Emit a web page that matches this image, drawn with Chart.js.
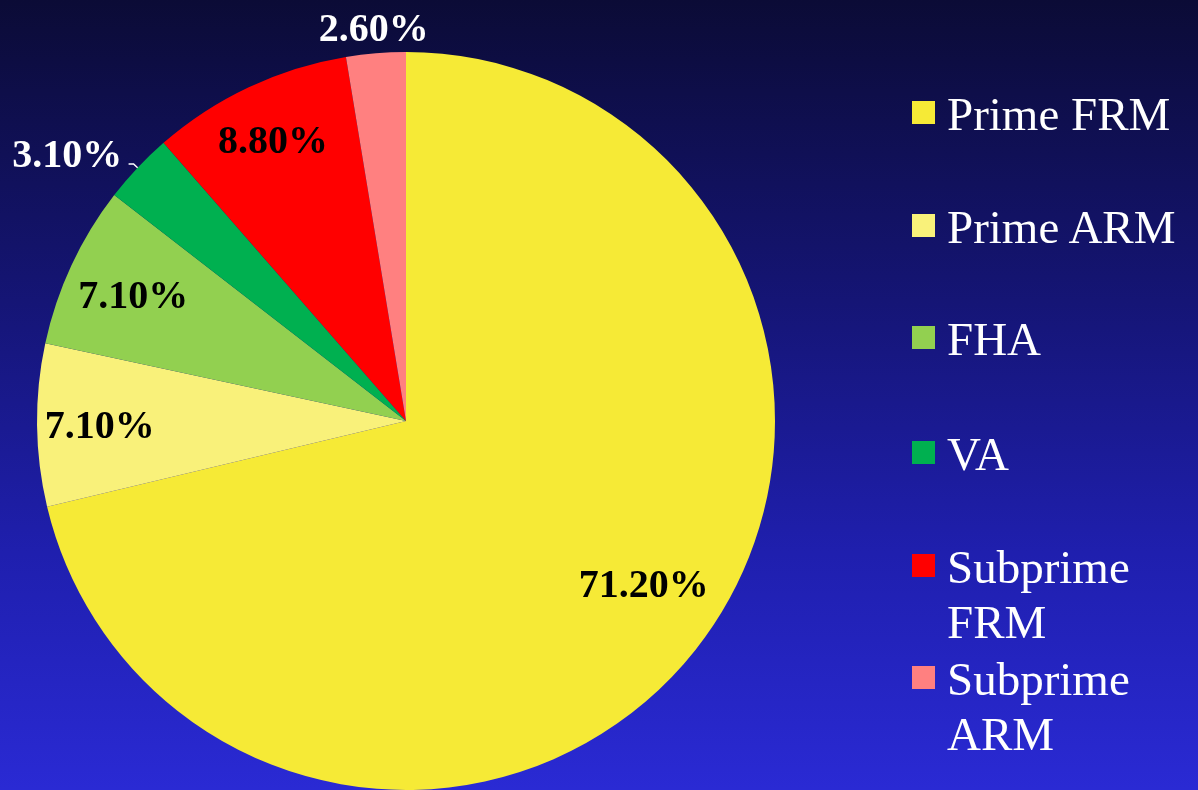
<!DOCTYPE html>
<html>
<head>
<meta charset="utf-8">
<title>Mortgage market shares</title>
<script src="https://cdn.jsdelivr.net/npm/chart.js@4.4.1/dist/chart.umd.min.js"></script>
<style>
  html, body {
    margin: 0;
    padding: 0;
    width: 1198px;
    height: 790px;
    overflow: hidden;
  }
  body {
    position: relative;
    background: linear-gradient(to bottom, #0b0b36 0%, #141470 35%, #1f1fae 70%, #2a2ad4 100%);
    font-family: "Liberation Serif", "Times New Roman", serif;
  }
  #pie {
    position: absolute;
    left: 0;
    top: 0;
  }
  .legend {
    position: absolute;
    left: 912px;
    color: #ffffff;
    font-size: 47px;
    line-height: 55px;
  }
  .legend .swatch {
    position: absolute;
    left: 0;
    width: 23px;
    height: 23px;
  }
  .legend .text {
    position: absolute;
    left: 35px;
    white-space: nowrap;
  }
</style>
</head>
<body>
<canvas id="pie" width="1198" height="790"></canvas>
<div id="legend"></div>
<script>
// mortgage types and their share of the market, in percent
const categories = ['Prime FRM', 'Prime ARM', 'FHA', 'VA', 'Subprime FRM', 'Subprime ARM'];
const shares = [71.2, 7.1, 7.1, 3.1, 8.8, 2.6];
const sliceColors = ['#f6ea36', '#f9f17a', '#92d050', '#00b050', '#ff0000', '#ff8080'];

// legend rows: each entry is one or two text lines
const legendLines = [['Prime FRM'], ['Prime ARM'], ['FHA'], ['VA'], ['Subprime', 'FRM'], ['Subprime', 'ARM']];
const legendTops = [87, 200, 312, 427, 540, 652];

// label placement per slice: radius fraction, angle nudge (deg), colour
const labelRadius = [0.78, 0.83, 0.815, 1.17, 0.846, 1.07];
const labelShift = [-4, 0, 0, -5, 0, 0];
const labelColor = ['#000', '#000', '#000', '#fff', '#000', '#fff'];

const sliceLabels = {
  id: 'sliceLabels',
  afterDatasetsDraw(chart) {
    const ctx = chart.ctx;
    const meta = chart.getDatasetMeta(0);
    ctx.save();
    ctx.font = 'bold 40px "Liberation Serif", "Times New Roman", serif';
    ctx.textAlign = 'center';
    ctx.textBaseline = 'alphabetic';
    meta.data.forEach((arc, i) => {
      const p = arc.getProps(['x', 'y', 'startAngle', 'endAngle', 'outerRadius'], true);
      const mid = (p.startAngle + p.endAngle) / 2;
      const a = mid + labelShift[i] * Math.PI / 180;
      const r = p.outerRadius * labelRadius[i];
      ctx.fillStyle = labelColor[i];
      // baseline sits half a cap height below the anchor point
      ctx.fillText(shares[i].toFixed(2) + '%', p.x + r * Math.cos(a), p.y + r * Math.sin(a) + 14);

      // short leader tick for the outside label on the left
      if (labelRadius[i] > 1 && Math.cos(mid) < -0.3) {
        const ex = p.x + p.outerRadius * Math.cos(mid);
        const ey = p.y + p.outerRadius * Math.sin(mid);
        const ox = p.x + p.outerRadius * 1.015 * Math.cos(mid);
        const oy = p.y + p.outerRadius * 1.015 * Math.sin(mid);
        ctx.strokeStyle = '#ffffff';
        ctx.lineWidth = 1.5;
        ctx.beginPath();
        ctx.moveTo(ex, ey);
        ctx.lineTo(ox, oy);
        ctx.lineTo(ox - 5, oy);
        ctx.stroke();
      }
    });
    ctx.restore();
  }
};

new Chart(document.getElementById('pie'), {
  type: 'pie',
  data: {
    labels: categories,
    datasets: [{
      data: shares,
      backgroundColor: sliceColors,
      borderWidth: 0
    }]
  },
  options: {
    responsive: false,
    animation: false,
    devicePixelRatio: 1,
    layout: {
      padding: { left: 36, top: 52, right: 422, bottom: 0 }
    },
    plugins: {
      legend: { display: false },
      tooltip: { enabled: false }
    }
  },
  plugins: [sliceLabels]
});

// legend on the right
const legendBox = document.getElementById('legend');
legendLines.forEach((lines, i) => {
  const row = document.createElement('div');
  row.className = 'legend';
  row.style.top = legendTops[i] + 'px';
  const sw = document.createElement('div');
  sw.className = 'swatch';
  sw.style.background = sliceColors[i];
  sw.style.top = '14px';
  const tx = document.createElement('div');
  tx.className = 'text';
  tx.innerHTML = lines.join('<br>');
  row.appendChild(sw);
  row.appendChild(tx);
  legendBox.appendChild(row);
});
</script>
</body>
</html>
